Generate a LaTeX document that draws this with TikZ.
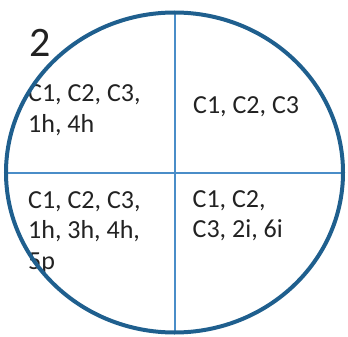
\documentclass[tikz,border=0pt]{standalone}
\usepackage{fontspec}
\setmainfont{Carlito}
\definecolor{ringblue}{HTML}{1F5F8E}
\definecolor{lineblue}{HTML}{4A8DC8}
\definecolor{txt}{HTML}{222222}
\begin{document}
\begin{tikzpicture}[x=1pt,y=-1pt,
  lbl/.style={anchor=base west,inner sep=0pt,align=left,text=txt,font=\fontsize{26}{30.5}\selectfont},
  big/.style={anchor=base west,inner sep=0pt,text=txt,font=\fontsize{42}{46}\selectfont}]
\useasboundingbox (0,0) rectangle (348,337);
\coordinate (c) at (174.5,172.5);
\coordinate (top) at (175,12.5);
\coordinate (bot) at (175,332.5);
\coordinate (lft) at (6,173);
\coordinate (rgt) at (343,173);
\draw[lineblue,line width=2pt] (top) -- (bot);
\draw[lineblue,line width=2pt] (lft) -- (rgt);
\node[big] (num) at (29,56.7) {2};
\node[lbl] (tl) at (28,132.2) {C1, C2, C3,\\1h, 4h};
\node[lbl] (tr) at (193,113.3) {C1, C2, C3};
\node[lbl] (bl) at (28,269) {C1, C2, C3,\\1h, 3h, 4h,\\5p};
\node[lbl] (br) at (192.5,237.5) {C1, C2,\\C3, 2i, 6i};
\draw[ringblue,line width=4pt] (c) ellipse [x radius=168.5, y radius=160];
\end{tikzpicture}
\end{document}
